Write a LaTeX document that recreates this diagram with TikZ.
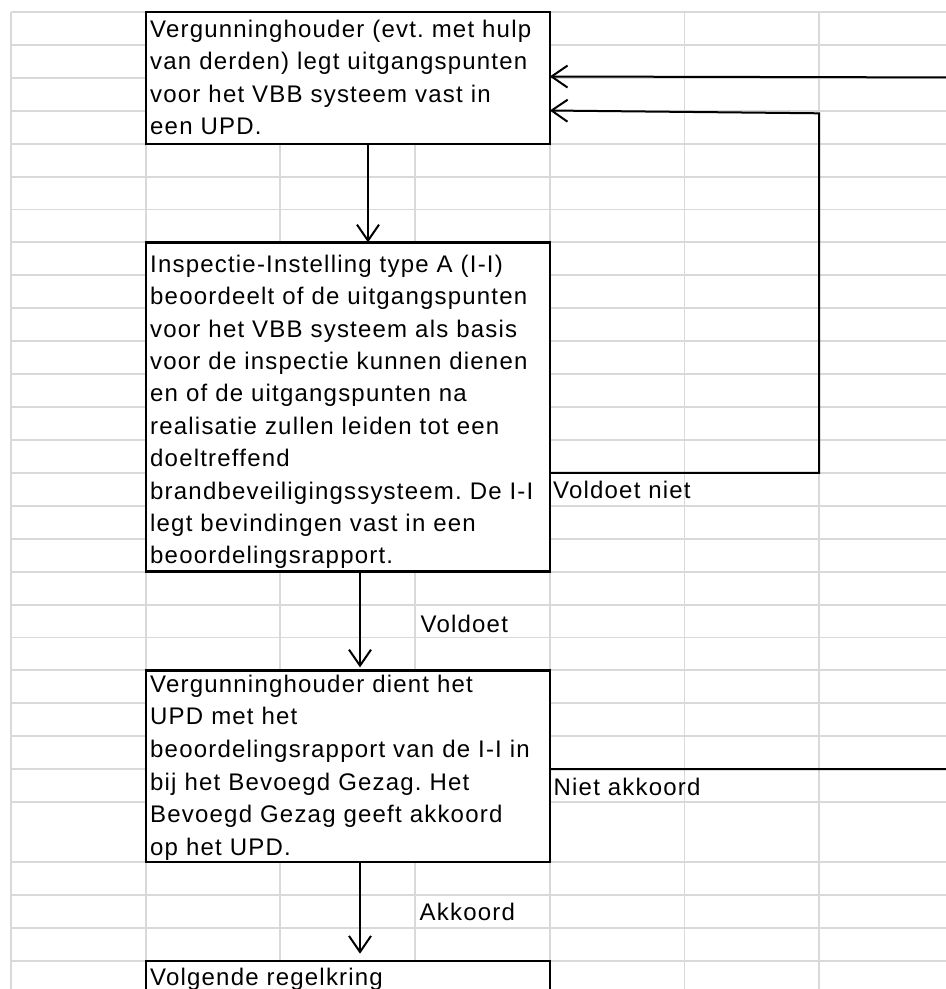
\documentclass[tikz,border=0pt]{standalone}
\usepackage{fontspec}
\newfontfamily\cellfont{Liberation Sans}[LetterSpace=5,Ligatures=CommonOff]
\usetikzlibrary{arrows.meta}
\definecolor{gridgray}{RGB}{217,217,217}
\frenchspacing
\begin{document}
\begin{tikzpicture}[x=1pt,y=-1pt,
  gridline/.style={gridgray, line width=1.9pt},
  stepbox/.style={draw=black, fill=white, line width=2.4pt, rectangle,
    inner sep=0pt, outer sep=0pt, anchor=north west},
  boxtext/.style={anchor=north west, inner sep=0pt, text width=420pt,
    align=left, font=\cellfont\fontsize{24}{32.5}\selectfont},
  flowlabel/.style={anchor=base west, inner sep=0pt,
    font=\cellfont\fontsize{24}{32.5}\selectfont},
  flow/.style={line width=2pt, line join=miter,
    -{Straight Barb[length=16pt,width=22pt]}}]

\path[use as bounding box, clip] (0,0) rectangle (946,989);
\fill[white] (0,0) rectangle (946,989);

% spreadsheet grid
\foreach \gx in {11,145.7,280.4,415.1,549.8,684.5,819.2}
  \draw[gridline] (\gx,12) -- (\gx,989);
\foreach \gy in {12,44.9,77.8,110.8,143.7,176.6,209.5,242.4,275.4,308.3,
    341.2,374.1,407,440,472.9,505.8,538.7,571.6,604.6,637.5,670.4,703.3,
    736.2,769.2,802.1,862,894.9,927.8,960.7}
  \draw[gridline] (11,\gy) -- (946,\gy);

% process steps
\node[stepbox, minimum width=404.1pt, minimum height=131.7pt] (b1) at (145.7,12) {};
\node[stepbox, minimum width=404.1pt, minimum height=329.2pt] (b2) at (145.7,242.4) {};
\node[stepbox, minimum width=404.1pt, minimum height=191.6pt] (b3) at (145.7,670.4) {};
\node[stepbox, minimum width=404.1pt, minimum height=80pt] (b4) at (145.7,960.7) {};

\node[boxtext] (t1) at (150,12) {\rule{0pt}{25pt}Vergunninghouder (evt. met hulp\\
van derden) legt uitgangspunten\\
voor het VBB systeem vast in\\
een UPD.};

\node[boxtext, font=\cellfont\fontsize{24}{32.4}\selectfont] (t2) at (150,247) {\rule{0pt}{25pt}Inspectie-Instelling type A (I-I)\\
beoordeelt of de uitgangspunten\\
voor het VBB systeem als basis\\
voor de inspectie kunnen dienen\\
en of de uitgangspunten na\\
realisatie zullen leiden tot een\\
doeltreffend\\
brandbeveiligingssysteem. De I-I\\
legt bevindingen vast in een\\
beoordelingsrapport.};

\node[boxtext, font=\cellfont\fontsize{24}{32.6}\selectfont] (t3) at (150,667) {\rule{0pt}{25pt}Vergunninghouder dient het\\
UPD met het\\
beoordelingsrapport van de I-I in\\
bij het Bevoegd Gezag. Het\\
Bevoegd Gezag geeft akkoord\\
op het UPD.};

\node[boxtext] (t4) at (150,960) {\rule{0pt}{25pt}Volgende regelkring};

% connector guide points
\coordinate (xa) at (368,0);
\coordinate (xb) at (360,0);
\coordinate (yfail) at (0,472.9);
\coordinate (yback) at (0,110.5);
\coordinate (yreject) at (0,769.2);
\coordinate (ytop) at (0,76.5);
\coordinate (cfail) at (819.2,472.9);
\coordinate (cback) at (819.2,113.3);
\coordinate (creject) at (975,769.2);
\coordinate (ctop) at (975,77.5);

% main flow
\draw[flow] (b1.south -| xa) -- (b2.north -| xa);
\draw[flow, shorten >=3pt] (b2.south -| xb) -- (b3.north -| xb);
\draw[flow, shorten >=7pt] (b3.south -| xb) -- (b4.north -| xb);

% feedback loops
\draw[flow] (b2.east |- yfail) -- (cfail) -- (cback) -- (b1.east |- yback);
\draw[flow] (b3.east |- yreject) -- (creject) -- (ctop) -- (b1.east |- ytop);

% flow labels
\node[flowlabel] (l1) at (553,498) {Voldoet niet};
\node[flowlabel] (l2) at (420.5,632) {Voldoet};
\node[flowlabel] (l3) at (553.5,795) {Niet akkoord};
\node[flowlabel] (l4) at (419.5,920) {Akkoord};
\end{tikzpicture}
\end{document}
